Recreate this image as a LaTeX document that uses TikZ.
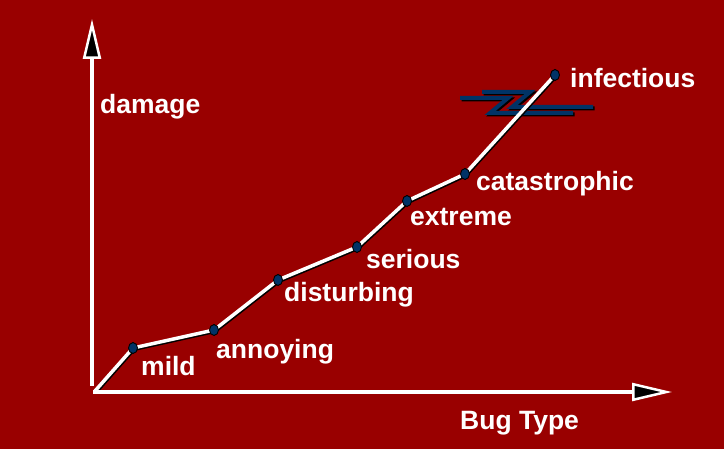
\documentclass[tikz,border=0pt]{standalone}
\usepackage{fontspec}
\setmainfont{Liberation Sans}
\usetikzlibrary{arrows.meta,shapes.geometric}
\definecolor{slidered}{RGB}{153,0,0}
\definecolor{dotblue}{RGB}{0,51,102}
\begin{document}
\begin{tikzpicture}[x=1pt,y=-1pt,
  lbl/.style={anchor=base west,inner sep=0pt,text=white,font=\fontsize{26.5}{32}\selectfont\bfseries},
  axis/.style={white,line width=4pt,-{Triangle[length=40pt,width=18pt,line width=2.5pt,fill=black]}},
  dot/.style={ellipse,draw=black,line width=0.9pt,fill=dotblue,minimum width=9pt,minimum height=11pt,inner sep=0pt},
  curve/.style={white,line width=3.5pt,line join=round},
  curveshadow/.style={black,line width=3.5pt,line join=round,transform canvas={xshift=1pt,yshift=-1.3pt}}
]

% slide size:
\useasboundingbox[fill=slidered] (0,0) rectangle (724,449);

% break mark:
\newcommand{\zigline}[4]{
  \draw[black,line width=4pt,transform canvas={xshift=1.5pt,yshift=-1.5pt}] #1--#2--#3--#4;
  \draw[dotblue,line width=4pt] #1--#2--#3--#4;
}
\zigline{(460,98)}{(508,98)}{(490,113)}{(573,113)}
\zigline{(482,92)}{(530,92)}{(512,107)}{(593,107)}

% points of the curve:
\coordinate (start) at (95,391);
\foreach \name/\px/\py in {mild/133/348,annoying/214/330,disturbing/278/280,serious/357/247,
    extreme/407/201,catastrophic/465/174,infectious/555/75}{
  \coordinate (p-\name) at (\px,\py);
}
\draw[curveshadow] (start)--(p-mild)--(p-annoying)--(p-disturbing)--(p-serious)--(p-extreme)--(p-catastrophic)--(p-infectious);
\draw[curve] (start)--(p-mild)--(p-annoying)--(p-disturbing)--(p-serious)--(p-extreme)--(p-catastrophic)--(p-infectious);

\foreach \name/\tx/\ty in {mild/141/376,annoying/216/359,disturbing/284/302,serious/366/269,
    extreme/410/226,catastrophic/476/191,infectious/570/88}{
  \node[dot] (\name) at (p-\name) {};
  \node[lbl] (l-\name) at (\tx,\ty) {\name};
}

% axes:
\coordinate (vbot) at (92,386);
\coordinate (ytip) at (92,19);
\coordinate (hleft) at (93,392);
\coordinate (xtip) at (672,392);
\draw[axis] (vbot)--(ytip);
\draw[axis] (hleft)--(xtip);

\node[lbl] (ylabel) at (100,114) {damage};
\node[lbl] (xlabel) at (460,430) {Bug Type};

\end{tikzpicture}
\end{document}
